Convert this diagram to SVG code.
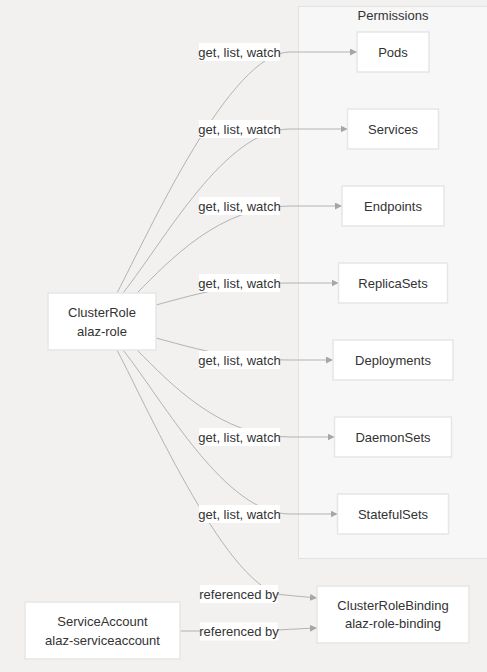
<svg xmlns="http://www.w3.org/2000/svg" width="487" height="672" viewBox="0 0 487 672">
<style>
.node rect{fill:#ffffff;stroke:#e6e6e6;stroke-width:1.5}
text{font-family:"Liberation Sans",Arial,sans-serif;font-size:13px;fill:#333333;text-anchor:middle;dominant-baseline:central}
.edge{fill:none;stroke:#b3b3b3;stroke-width:1}
.lbl rect{fill:#ffffff}
</style>
<defs>
<marker id="arr" viewBox="0 0 10 10" refX="10" refY="5" markerWidth="7" markerHeight="7" markerUnits="userSpaceOnUse" orient="auto">
<path d="M0,0 L10,5 L0,10 z" fill="#a6a6a6"/>
</marker>
</defs>
<rect x="0" y="0" width="487" height="672" fill="#f2f1f0"/>
<g id="cluster-permissions">
<rect x="298.5" y="6.5" width="195" height="552" fill="#f7f7f7" stroke="#e3e3e3" stroke-width="1"/>
<text x="393" y="15">Permissions</text>
</g>
<g id="connectors">
<path class="edge" marker-end="url(#arr)" d="M117,293 C150,230 230,52 290,52 L357,52"/>
<path class="edge" marker-end="url(#arr)" d="M123,293 C165,240 225,129 290,129 L347.5,129"/>
<path class="edge" marker-end="url(#arr)" d="M137,293 C170,260 220,206 290,206 L342,206"/>
<path class="edge" marker-end="url(#arr)" d="M156,305 C190,296 230,283 290,283 L338.5,283"/>
<path class="edge" marker-end="url(#arr)" d="M156,338 C190,347 230,360 290,360 L333,360"/>
<path class="edge" marker-end="url(#arr)" d="M137,350 C170,383 220,437 290,437 L334.5,437"/>
<path class="edge" marker-end="url(#arr)" d="M123,350 C165,403 225,514 290,514 L337.5,514"/>
<path class="edge" marker-end="url(#arr)" d="M117,350 C150,413 230,594 285,595 L317,598"/>
<path class="edge" marker-end="url(#arr)" d="M180,631 L240,631 C270,631 290,629 317,628"/>
<g class="lbl">
<rect x="199" y="43" width="81" height="18"/><text x="239.5" y="52">get, list, watch</text>
<rect x="199" y="120" width="81" height="18"/><text x="239.5" y="129">get, list, watch</text>
<rect x="199" y="197" width="81" height="18"/><text x="239.5" y="206">get, list, watch</text>
<rect x="199" y="274" width="81" height="18"/><text x="239.5" y="283">get, list, watch</text>
<rect x="199" y="351" width="81" height="18"/><text x="239.5" y="360">get, list, watch</text>
<rect x="199" y="428" width="81" height="18"/><text x="239.5" y="437">get, list, watch</text>
<rect x="199" y="505" width="81" height="18"/><text x="239.5" y="514">get, list, watch</text>
<rect x="200" y="585" width="78" height="18"/><text x="239" y="594">referenced by</text>
<rect x="200" y="622.5" width="78" height="18"/><text x="239" y="631.5">referenced by</text>
</g>
</g>
<g id="node-pods" class="node"><rect x="357" y="32" width="72" height="40"/><text x="393" y="52">Pods</text></g>
<g id="node-services" class="node"><rect x="347.5" y="109" width="91" height="40"/><text x="393" y="129">Services</text></g>
<g id="node-endpoints" class="node"><rect x="342" y="186" width="102" height="40"/><text x="393" y="206">Endpoints</text></g>
<g id="node-replicasets" class="node"><rect x="338.5" y="263" width="109" height="40"/><text x="393" y="283">ReplicaSets</text></g>
<g id="node-deployments" class="node"><rect x="333" y="340" width="120" height="40"/><text x="393" y="360">Deployments</text></g>
<g id="node-daemonsets" class="node"><rect x="334.5" y="417" width="117" height="40"/><text x="393" y="437">DaemonSets</text></g>
<g id="node-statefulsets" class="node"><rect x="337.5" y="494" width="111" height="40"/><text x="393" y="514">StatefulSets</text></g>
<g id="node-clusterrole" class="node"><rect x="48" y="293" width="108" height="57"/><text x="102" y="312.5">ClusterRole</text><text x="102" y="331">alaz-role</text></g>
<g id="node-serviceaccount" class="node"><rect x="25" y="602" width="155" height="57"/><text x="102.5" y="621">ServiceAccount</text><text x="102.5" y="640">alaz-serviceaccount</text></g>
<g id="node-clusterrolebinding" class="node"><rect x="317" y="586" width="152" height="57"/><text x="393" y="605">ClusterRoleBinding</text><text x="393" y="623.5">alaz-role-binding</text></g>
</svg>
